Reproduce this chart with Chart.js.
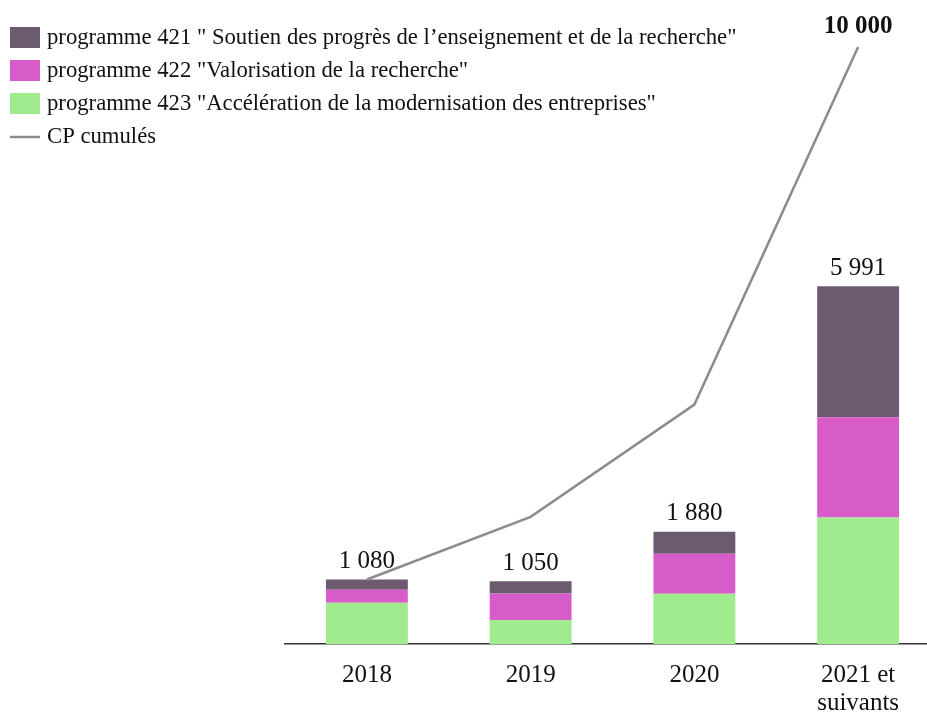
<!DOCTYPE html>
<html>
<head>
<meta charset="utf-8">
<script src="https://cdn.jsdelivr.net/npm/chart.js@4.4.0/dist/chart.umd.min.js"></script>
<style>
  html, body { margin: 0; padding: 0; background: #fff; overflow: hidden; }
  #wrap { width: 945px; height: 713px; }
</style>
</head>
<body>
<div id="wrap"><canvas id="chart" width="945" height="713"></canvas></div>
<script>
// data (millions d'euros)
var years = ['2018', '2019', '2020', ['2021 et', 'suivants']];
var prog423 = [690, 400, 840, 2120];
var prog422 = [220, 445, 670, 1680];
var prog421 = [170, 205, 370, 2191];
var totals = [1080, 1050, 1880, 5991];
var cumul = [1080, 2130, 4010, 10000];

var FONT = '"Liberation Serif", "DejaVu Serif", serif';

function fmt(n) {
  return String(n).replace(/\B(?=(\d{3})+(?!\d))/g, ' ');
}

// legend drawn in the top-left corner, outside the plot area
var legendPlugin = {
  id: 'cornerLegend',
  afterDraw: function(chart) {
    var ctx = chart.ctx;
    var ds = chart.data.datasets;
    var order = [2, 1, 0, 3];
    ctx.save();
    ctx.font = '22.7px ' + FONT;
    ctx.textBaseline = 'middle';
    ctx.textAlign = 'left';
    for (var k = 0; k < order.length; k++) {
      var d = ds[order[k]];
      var cy = 38 + k * 33;
      if (d.type === 'line') {
        ctx.strokeStyle = d.borderColor;
        ctx.lineWidth = 2.5;
        ctx.beginPath();
        ctx.moveTo(10, cy);
        ctx.lineTo(40, cy);
        ctx.stroke();
      } else {
        ctx.fillStyle = d.backgroundColor;
        ctx.fillRect(10, cy - 11, 30, 21);
      }
      ctx.fillStyle = '#111';
      ctx.fillText(d.label, 47, cy);
    }
    ctx.restore();
  }
};

// totals above the bars and the last cumulated value
var valuePlugin = {
  id: 'values',
  afterDatasetsDraw: function(chart) {
    var ctx = chart.ctx;
    var top = chart.getDatasetMeta(2);
    var line = chart.getDatasetMeta(3);
    ctx.save();
    ctx.fillStyle = '#111';
    ctx.textAlign = 'center';
    ctx.textBaseline = 'middle';
    ctx.font = '25px ' + FONT;
    for (var i = 0; i < totals.length; i++) {
      var el = top.data[i];
      ctx.fillText(fmt(totals[i]), el.x, el.y - 18);
    }
    var last = line.data[cumul.length - 1];
    ctx.font = 'bold 25px ' + FONT;
    ctx.fillText(fmt(cumul[cumul.length - 1]), last.x, last.y - 20);
    ctx.restore();
  }
};

var ctx = document.getElementById('chart').getContext('2d');
var chart = new Chart(ctx, {
  type: 'bar',
  data: {
    labels: years,
    datasets: [{
      label: 'programme 423 "Accélération de la modernisation des entreprises"',
      data: prog423,
      backgroundColor: '#a0eb8e',
      stack: 'cp',
      order: 1
    },
    {
      label: 'programme 422 "Valorisation de la recherche"',
      data: prog422,
      backgroundColor: '#d75bc8',
      stack: 'cp',
      order: 1
    },
    {
      label: 'programme 421 " Soutien des progrès de l’enseignement et de la recherche"',
      data: prog421,
      backgroundColor: '#6c5a70',
      stack: 'cp',
      order: 1
    },
    {
      type: 'line',
      label: 'CP cumulés',
      data: cumul,
      borderColor: '#8c8c8c',
      borderWidth: 2.5,
      pointRadius: 0,
      tension: 0,
      fill: false,
      stack: 'cumul',
      clip: false,
      order: 0
    }]
  },
  options: {
    responsive: false,
    animation: false,
    events: [],
    layout: {
      padding: { left: 285, top: 47, right: 5, bottom: 0 }
    },
    datasets: {
      bar: { barPercentage: 0.5, categoryPercentage: 1 }
    },
    plugins: {
      legend: { display: false },
      tooltip: { enabled: false }
    },
    scales: {
      x: {
        stacked: true,
        grid: { display: false },
        border: { display: true, color: '#333', width: 1.5 },
        ticks: {
          color: '#111',
          font: { family: FONT, size: 25, lineHeight: 1.12 },
          maxRotation: 0,
          autoSkip: false,
          padding: 9
        },
        afterFit: function(scale) { scale.height = 69; }
      },
      y: {
        stacked: true,
        display: false,
        min: 0,
        max: 10000
      }
    }
  },
  plugins: [legendPlugin, valuePlugin]
});
</script>
</body>
</html>
